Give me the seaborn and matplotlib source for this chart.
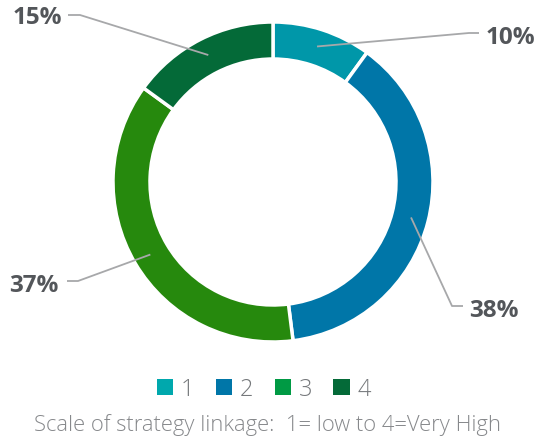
import numpy as np
import matplotlib
matplotlib.use("Agg")
import matplotlib.pyplot as plt
from matplotlib.patches import Patch
import seaborn as sns

# Share of respondents by strategy-linkage score
categories = ["1", "2", "3", "4"]
shares = [10, 38, 37, 15]
wedge_colors = ["#0097A9", "#0076A8", "#26890D", "#046A38"]
legend_colors = ["#00A8AD", "#0076A8", "#009A44", "#046A38"]
caption = "Scale of strategy linkage:  1= low to 4=Very High"

sns.set_theme(style="white")
plt.rcParams["font.family"] = ["Open Sans", "DejaVu Sans"]

W, H = 539, 439
fig = plt.figure(figsize=(W / 100, H / 100), dpi=100)
ax = fig.add_axes([0, 0, 1, 1])

cx, cy = 273, H - 183
R, ring = 160, 37

wedges, _ = ax.pie(
    shares, colors=wedge_colors, startangle=90, counterclock=False,
    radius=R, center=(cx, cy),
    wedgeprops=dict(width=ring, edgecolor="white", linewidth=2.5),
)
ax.set_xlim(0, W)
ax.set_ylim(0, H)
ax.set_aspect("auto")
ax.axis("off")

# leader lines: anchor in the ring, elbow, end near the label
label_layout = [
    # (elbow xy, end xy, text xy, ha)
    ((469, 34), (479, 34), (486, 38), "left"),
    ((452, 307), (463, 307), (469, 311), "left"),
    ((78, 282), (67, 282), (59, 286), "right"),
    ((80, 16), (68, 16), (62, 18), "right"),
]

total = sum(shares)
start = 90.0
for val, (elbow, end, txt, ha) in zip(shares, label_layout):
    span = 360.0 * val / total
    mid = np.deg2rad(start - span / 2)
    start -= span
    r_mid = R - ring / 2 + 1
    ax0, ay0 = cx + r_mid * np.cos(mid), cy + r_mid * np.sin(mid)
    ex, ey = elbow[0], H - elbow[1]
    fx, fy = end[0], H - end[1]
    ax.plot([ax0, ex, fx], [ay0, ey, fy], color="#A7A8AA", lw=1.3,
            solid_capstyle="butt", zorder=3)
    ax.text(txt[0], H - txt[1], f"{val}%", ha=ha, va="center",
            fontsize=17.5, fontweight="bold", color="#53565A")

handles = [Patch(facecolor=c, edgecolor="none") for c in legend_colors]
fig.legend(handles, categories, loc="center", bbox_to_anchor=(264 / W, 1 - 390 / H),
           ncol=4, frameon=False, handlelength=0.68, handleheight=0.68,
           handletextpad=0.34, columnspacing=0.9, labelcolor="#75787B",
           prop=dict(family=["Open Sans", "DejaVu Sans"], size=17, weight="light"))

fig.text(268 / W, 1 - 425 / H, caption, ha="center", va="center",
         fontsize=15.8, color="#86888B", fontweight="light")

fig.savefig("out.png", dpi=100)
